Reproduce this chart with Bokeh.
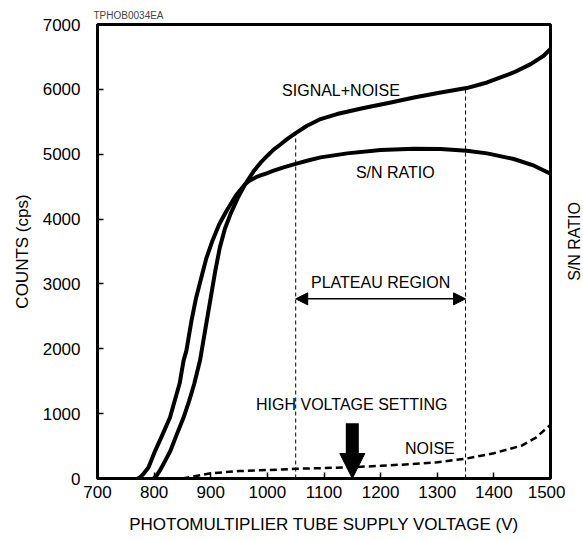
import math
from bokeh.plotting import figure
from bokeh.layouts import row
from bokeh.models import Range1d, FixedTicker, Arrow, NormalHead, Label
from bokeh.embed import file_html
from bokeh.resources import INLINE

# ---- data ----
sn_voltage = [771, 776, 782, 790, 802, 815, 828, 845, 852, 857, 866, 874, 882, 892, 903, 915, 928,
              945, 961, 970, 980, 988, 1000, 1011, 1030, 1050, 1070, 1094, 1141, 1200, 1259,
              1306, 1352, 1388, 1435, 1471, 1500]
sn_counts = [0, 25, 80, 170, 430, 680, 940, 1464, 1818, 1972, 2434, 2780, 3051, 3390, 3667, 3920, 4129,
             4370, 4541, 4600, 4645, 4672, 4710, 4746, 4800, 4852, 4900, 4951, 5013, 5065, 5085,
             5080, 5054, 5013, 4926, 4823, 4700]

sig_voltage = [799, 804, 810, 820, 829, 840, 852, 862, 871, 881, 890, 899, 908, 916, 925, 935,
               948, 961, 976, 988, 1000, 1011, 1023, 1036, 1050, 1070, 1094, 1123, 1170, 1218,
               1259, 1306, 1352, 1388, 1435, 1465, 1488, 1500]
sig_counts = [0, 40, 120, 280, 431, 680, 940, 1200, 1464, 1818, 2280, 2740, 3200, 3560, 3850, 4080,
              4330, 4541, 4740, 4870, 4977, 5070, 5150, 5240, 5325, 5439, 5542, 5619, 5712, 5798,
              5875, 5952, 6020, 6106, 6260, 6389, 6518, 6625]

noise_voltage = [850, 900, 950, 1000, 1050, 1100, 1150, 1200, 1250, 1300, 1350, 1400, 1450, 1475, 1500]
noise_counts = [0, 80, 115, 130, 150, 160, 175, 195, 220, 250, 305, 390, 510, 635, 830]

x_ticks = [700, 800, 900, 1000, 1100, 1200, 1300, 1400, 1500]
y_ticks = [0, 1000, 2000, 3000, 4000, 5000, 6000, 7000]

plateau_voltage = [1050, 1350]
plateau_top = [5325, 6020]
plateau_arrow_y = 2770
hv_setting = 1150
hv_arrow_top = 850

FONT = "Liberation Sans"

p = figure(width=565, height=540, output_backend="svg", toolbar_location=None,
           x_range=Range1d(700, 1500), y_range=Range1d(0, 7000),
           min_border_left=97, min_border_right=15, min_border_top=24, min_border_bottom=62,
           background_fill_color="white", border_fill_color="white")

p.title.text = "TPHOB0034EA"
p.title.text_font = FONT
p.title.text_font_size = "10px"
p.title.text_font_style = "normal"
p.title.standoff = 8
p.title.offset = -4

p.grid.visible = False
p.outline_line_color = "black"
p.outline_line_width = 3

for ax in (p.xaxis[0], p.yaxis[0]):
    ax.axis_line_width = 3
    ax.axis_line_color = "black"
    ax.major_tick_in = 6
    ax.major_tick_out = 0
    ax.major_tick_line_width = 1.5
    ax.minor_tick_line_color = None
    ax.major_label_text_font = FONT
    ax.major_label_text_font_size = "17px"
    ax.major_label_text_color = "black"
    ax.axis_label_text_font = FONT
    ax.axis_label_text_font_size = "17px"
    ax.axis_label_text_font_style = "normal"
    ax.axis_label_text_color = "black"

p.xaxis[0].ticker = FixedTicker(ticks=x_ticks)
p.yaxis[0].ticker = FixedTicker(ticks=y_ticks)
p.xaxis[0].axis_label = "PHOTOMULTIPLIER TUBE SUPPLY VOLTAGE (V)"
p.yaxis[0].axis_label = "COUNTS (cps)"
p.xaxis[0].major_label_standoff = 7
p.xaxis[0].axis_label_standoff = 14
p.yaxis[0].major_label_standoff = 17
p.yaxis[0].axis_label_standoff = 8

# curves
p.line(sn_voltage, sn_counts, line_color="black", line_width=4, line_join="round")
p.line(sig_voltage, sig_counts, line_color="black", line_width=4, line_join="round")
p.line(noise_voltage, noise_counts, line_color="black", line_width=2.5, line_dash="7 4")

# plateau boundaries
p.segment(x0=plateau_voltage, y0=[0, 0], x1=plateau_voltage, y1=plateau_top,
          line_color="black", line_width=1, line_dash="4 3")

p.add_layout(Arrow(start=NormalHead(size=12, fill_color="black", line_color="black"),
                   end=NormalHead(size=12, fill_color="black", line_color="black"),
                   x_start=plateau_voltage[0], y_start=plateau_arrow_y,
                   x_end=plateau_voltage[1], y_end=plateau_arrow_y,
                   line_color="black", line_width=1.5))

p.add_layout(Arrow(end=NormalHead(size=25, fill_color="black", line_color="black"),
                   x_start=hv_setting, y_start=hv_arrow_top,
                   x_end=hv_setting, y_end=0,
                   line_color="black", line_width=13))

def lab(x, y, t, size="16px"):
    p.add_layout(Label(x=x, y=y, text=t, text_font=FONT, text_font_size=size,
                       text_align="center", text_baseline="middle", text_color="black"))

lab(1130, 5980, "SIGNAL+NOISE")
lab(1226, 4716, "S/N RATIO")
lab(1200, 3020, "PLATEAU REGION")
lab(1149, 1140, "HIGH VOLTAGE SETTING")
lab(1287, 460, "NOISE")

# narrow strip on the right carrying the right-hand axis title
p2 = figure(width=18, height=540, output_backend="svg", toolbar_location=None,
            x_range=Range1d(0, 18), y_range=Range1d(0, 540), min_border=0,
            background_fill_color="white", border_fill_color="white")
p2.axis.visible = False
p2.grid.visible = False
p2.outline_line_color = None
p2.add_layout(Label(x=9, y=282, text="S/N RATIO", angle=math.pi / 2,
                    text_font=FONT, text_font_size="16px",
                    text_align="center", text_baseline="middle", text_color="black"))

layout = row(p, p2)
open("out.html", "w").write(file_html(layout, INLINE))
